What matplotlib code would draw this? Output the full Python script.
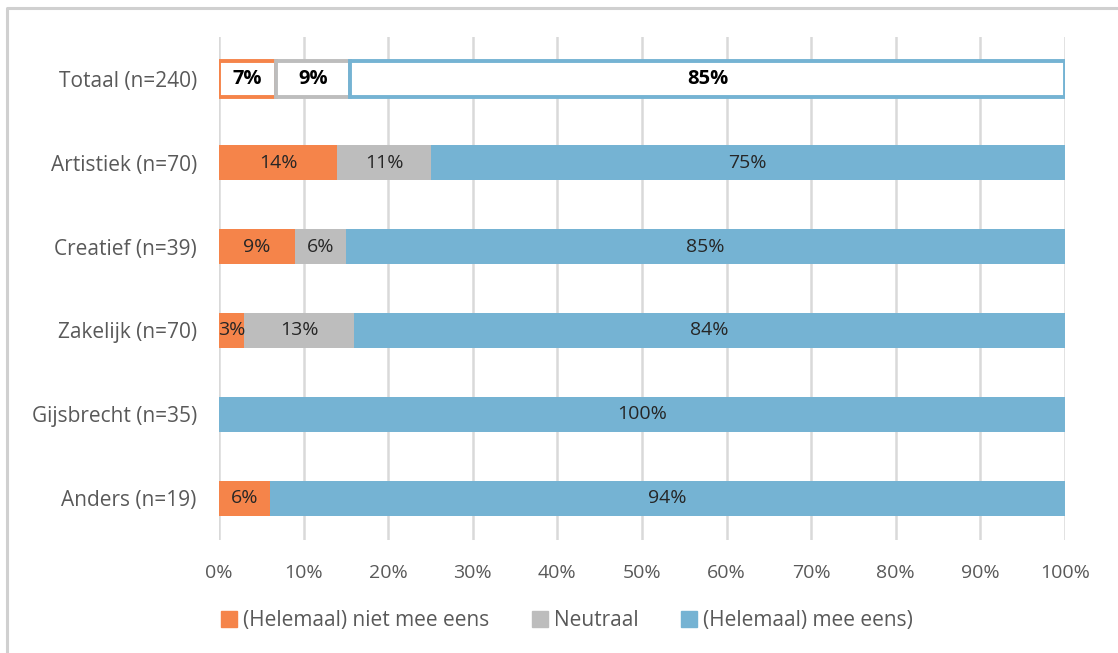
import matplotlib.pyplot as plt
from matplotlib.lines import Line2D
import numpy as np

# Data (shares in %)
categories = ['Totaal (n=240)', 'Artistiek (n=70)', 'Creatief (n=39)',
              'Zakelijk (n=70)', 'Gijsbrecht (n=35)', 'Anders (n=19)']
oneens = [6.7, 14, 9, 3, 0, 6]
neutraal = [8.8, 11, 6, 13, 0, 0]
eens = [84.5, 75, 85, 84, 100, 94]
series_names = ['(Helemaal) niet mee eens', 'Neutraal', '(Helemaal) mee eens)']
xticks = [0, 10, 20, 30, 40, 50, 60, 70, 80, 90, 100]

colors = ['#F5844A', '#BDBDBD', '#75B3D3']
text_color = '#262626'
tick_color = '#595959'
grid_color = '#D9D9D9'

plt.rcParams['font.family'] = ['Open Sans', 'DejaVu Sans']

fig = plt.figure(figsize=(11.18, 6.53), dpi=100)
ax = fig.add_axes([0.1959, 0.173, 0.7567, 0.7703])

y = np.arange(len(categories))
left = np.zeros(len(categories))
bar_h = 0.42

for vals, col, name in zip([oneens, neutraal, eens], colors, series_names):
    vals = np.array(vals, dtype=float)
    for i, v in enumerate(vals):
        if v <= 0:
            continue
        if i == 0:
            # Totaal: outlined bar, bold label
            ax.barh(y[i], v, left=left[i], height=bar_h, color='white',
                    edgecolor=col, linewidth=2.8, zorder=3)
            ax.text(left[i] + v / 2, y[i], f'{int(v + 0.5)}%', ha='center',
                    va='center', fontsize=14.5, fontweight='bold',
                    color='black', zorder=4)
        else:
            ax.barh(y[i], v, left=left[i], height=bar_h, color=col,
                    linewidth=0, zorder=3)
            ax.text(left[i] + v / 2, y[i], f'{int(v + 0.5)}%', ha='center',
                    va='center', fontsize=14, color=text_color, zorder=4)
    left += vals

ax.set_xlim(0, 100)
ax.set_ylim(len(categories) - 0.5, -0.5)
ax.set_yticks(y)
ax.set_yticklabels(categories)
ax.set_xticks(xticks)
ax.set_xticklabels([f'{t}%' for t in xticks])
ax.tick_params(axis='both', length=0, colors=tick_color)
ax.tick_params(axis='x', pad=17, labelsize=14)
ax.tick_params(axis='y', pad=16, labelsize=15)
ax.grid(axis='x', color=grid_color, linewidth=1.8, zorder=0)
ax.set_axisbelow(True)
for s in ax.spines.values():
    s.set_visible(False)

# Legend
handles = [Line2D([], [], marker='s', linestyle='none', markersize=11,
                  markerfacecolor=c, markeredgecolor=c) for c in colors]
leg = fig.legend(handles, series_names, loc='center', ncol=3,
                 bbox_to_anchor=(0.507, 0.05), frameon=False,
                 fontsize=15, handletextpad=0.3, columnspacing=2.0,
                 handlelength=0.8)
for t in leg.get_texts():
    t.set_color(tick_color)

# Outer frame (left and top)
fig.add_artist(Line2D([0.0063, 0.0063, 1.0], [0.0, 0.9877, 0.9877],
                      color='#D0D0D0', linewidth=2.2, transform=fig.transFigure))

fig.savefig('out.png', dpi=100)
